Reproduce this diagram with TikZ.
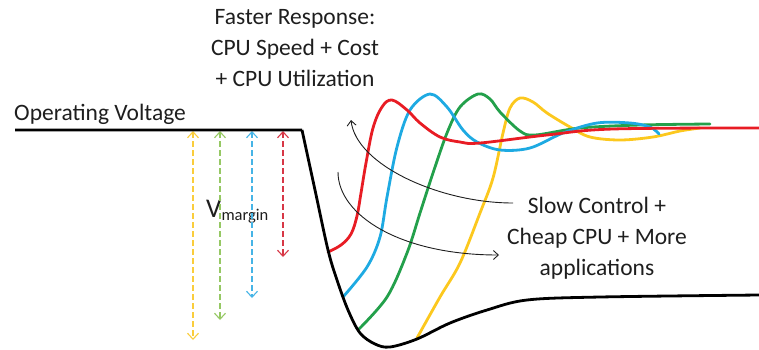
\documentclass[tikz,border=0pt]{standalone}
\usepackage{fontspec}
\setmainfont{Carlito}
\usetikzlibrary{arrows.meta}
\definecolor{cred}{RGB}{232,28,36}
\definecolor{cblue}{RGB}{30,170,226}
\definecolor{cgreen}{RGB}{35,160,75}
\definecolor{cyellow}{RGB}{252,200,30}
\definecolor{dred}{RGB}{215,55,70}
\definecolor{dblue}{RGB}{70,180,230}
\definecolor{dgreen}{RGB}{150,200,100}
\definecolor{dyellow}{RGB}{250,205,60}
\definecolor{txt}{RGB}{30,30,30}
\tikzset{
  label/.style={inner sep=0pt, text=txt, font=\fontsize{23.5}{31}\selectfont, align=center},
  resp/.style={line width=2.8pt, line join=round, line cap=round},
  margin/.style={line width=1.1pt, dash pattern=on 6pt off 3pt,
    {Straight Barb[length=6pt,width=11pt]}-{Straight Barb[length=6pt,width=11pt]}},
  trend/.style={line width=0.9pt, draw=txt, -{Straight Barb[length=5pt,width=9pt]}}
}
\begin{document}
\begin{tikzpicture}[x=1pt,y=-1pt]
\useasboundingbox (0,0) rectangle (759,349);

% labels
\node[label, anchor=base west] (opv) at (14,120) {Operating Voltage};
\node[label, anchor=north] (fast) at (295,9) {Faster Response:\\CPU Speed + Cost\\+ CPU Utilization};
\node[label, anchor=north] (slow) at (597,197) {Slow Control +\\Cheap CPU + More\\applications};
\node[inner sep=0pt, text=txt, anchor=base west] (vm) at (206,217)
  {\fontsize{27}{27}\selectfont V\raisebox{-3pt}{\fontsize{16.5}{16.5}\selectfont margin}};

% voltage margins
\coordinate (yt) at (193,131); \coordinate (yb) at (193,340);
\coordinate (gt) at (220,131); \coordinate (gb) at (220,320);
\coordinate (bt) at (252,131); \coordinate (bb) at (252,298);
\coordinate (rt) at (283,131); \coordinate (rb) at (283,257);
\draw[margin, dyellow] (yt) -- (yb);
\draw[margin, dgreen] (gt) -- (gb);
\draw[margin, dblue] (bt) -- (bb);
\draw[margin, dred] (rt) -- (rb);

% recovery responses
\draw[resp, cyellow] plot[smooth, tension=0.55] coordinates {
  (417,338) (440,297) (460,263) (480,213) (493,178) (503,133) (510,108) (520,98)
  (533,102) (547,113) (570,127) (590,137) (620,140) (653,137) (680,131) (700,128)};
\draw[resp, cgreen] plot[smooth, tension=0.55] coordinates {
  (358,330) (387,297) (407,253) (420,213) (433,173) (447,133) (460,107) (478,94)
  (490,99) (500,112) (520,131) (535,135) (580,128) (640,125) (710,124)};
\draw[resp, cblue] plot[smooth, tension=0.55] coordinates {
  (343,297) (367,267) (380,237) (387,197) (397,147) (410,110) (430,94)
  (447,107) (463,130) (477,142) (500,150) (530,148) (563,133) (597,123) (630,123) (650,127) (659,134)};
\draw[resp, cred] plot[smooth, tension=0.6] coordinates {
  (328,252) (341,245) (351,234) (357,216) (361,193) (366,163) (373,128) (382,107) (392,100)
  (407,110) (420,123) (440,137) (460,142) (480,143) (547,135) (613,129) (759,128)};

% supply voltage
\draw[resp, black, line cap=butt] (15,130) -- (302,130)
  plot[smooth, tension=0.55] coordinates {
  (302,130) (315,190) (328,250) (337,280) (348,310) (360,333) (375,344) (390,347)
  (417,339) (450,323) (487,310) (527,300) (600,297) (759,295)};

% trend arrows
\coordinate (f0) at (513,203); \coordinate (f1) at (351,120);
\coordinate (s0) at (338,172); \coordinate (s1) at (499,255);
\draw[trend] (f0) .. controls (440,203) and (356,165) .. (f1);
\draw[trend] (s0) .. controls (338,215) and (400,255) .. (s1);
\end{tikzpicture}
\end{document}
